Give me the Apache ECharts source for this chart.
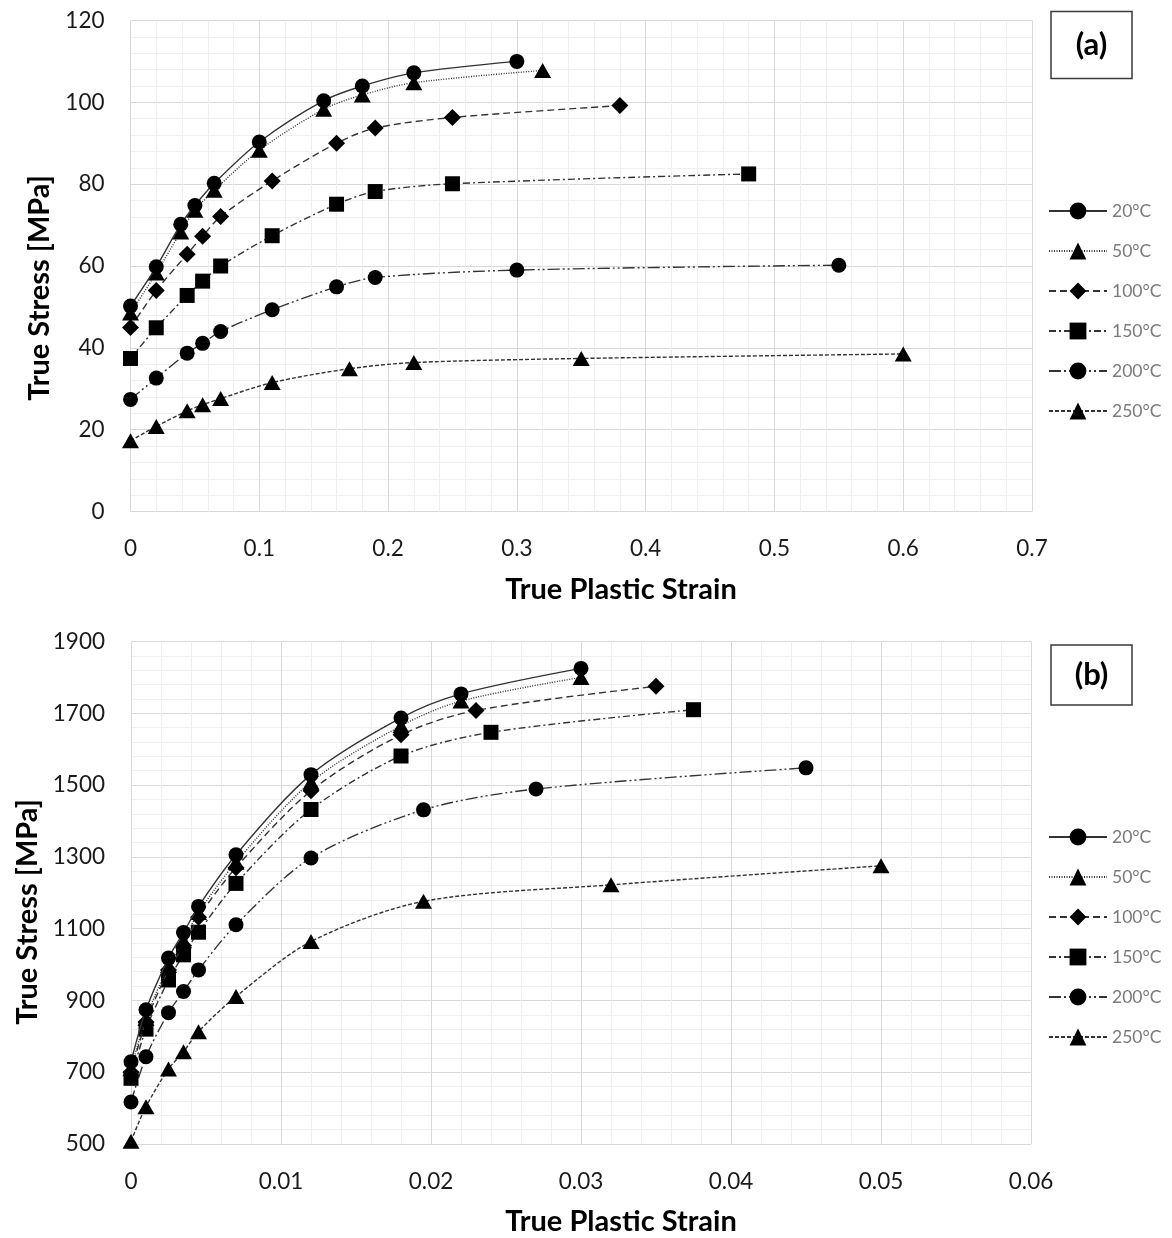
<!DOCTYPE html>
<html>
<head>
<meta charset="utf-8">
<script src="https://cdn.jsdelivr.net/npm/echarts@6/dist/echarts.min.js"></script>
<style>
html,body{margin:0;padding:0;background:#fff;}
#chart{width:1172px;height:1238px;}
</style>
</head>
<body>
<div id="chart"></div>
<script>
// ---------- Data: panel (a) ----------
const seriesNames = ['20°C', '50°C', '100°C', '150°C', '200°C', '250°C'];

const a_x20  = [0, 0.02, 0.039, 0.05, 0.065, 0.1, 0.15, 0.18, 0.22, 0.3];
const a_y20  = [50.2, 59.8, 70.2, 74.8, 80.2, 90.3, 100.4, 104, 107.2, 110];
const a_x50  = [0, 0.02, 0.039, 0.05, 0.065, 0.1, 0.15, 0.18, 0.22, 0.32];
const a_y50  = [48.5, 58.3, 68.3, 73.6, 78.5, 88.3, 98.3, 101.8, 104.8, 107.8];
const a_x100 = [0, 0.02, 0.044, 0.056, 0.07, 0.11, 0.16, 0.19, 0.25, 0.38];
const a_y100 = [45, 54, 62.9, 67.3, 72.1, 80.8, 90, 93.7, 96.3, 99.2];
const a_x150 = [0, 0.02, 0.044, 0.056, 0.07, 0.11, 0.16, 0.19, 0.25, 0.48];
const a_y150 = [37.4, 44.9, 52.8, 56.3, 60, 67.4, 75.1, 78.2, 80.1, 82.5];
const a_x200 = [0, 0.02, 0.044, 0.056, 0.07, 0.11, 0.16, 0.19, 0.3, 0.55];
const a_y200 = [27.4, 32.6, 38.7, 41.1, 44, 49.3, 54.9, 57.2, 59, 60.2];
const a_x250 = [0, 0.02, 0.044, 0.056, 0.07, 0.11, 0.17, 0.22, 0.35, 0.6];
const a_y250 = [17.3, 20.8, 24.6, 26.1, 27.6, 31.5, 34.9, 36.4, 37.4, 38.5];

// ---------- Data: panel (b) ----------
const b_x20  = [0, 0.001, 0.0025, 0.0035, 0.0045, 0.007, 0.012, 0.018, 0.022, 0.03];
const b_y20  = [729, 874, 1018, 1089, 1162, 1306, 1529, 1687, 1754, 1825];
const b_x50  = [0, 0.001, 0.0025, 0.0035, 0.0045, 0.007, 0.012, 0.018, 0.022, 0.03];
const b_y50  = [710, 850, 997, 1066, 1145, 1285, 1508, 1665, 1734, 1800];
const b_x100 = [0, 0.001, 0.0025, 0.0035, 0.0045, 0.007, 0.012, 0.018, 0.023, 0.035];
const b_y100 = [700, 840, 985, 1052, 1132, 1270, 1484, 1640, 1708, 1775];
const b_x150 = [0, 0.001, 0.0025, 0.0035, 0.0045, 0.007, 0.012, 0.018, 0.024, 0.0375];
const b_y150 = [683, 820, 957, 1027, 1090, 1226, 1432, 1581, 1647, 1710];
const b_x200 = [0, 0.001, 0.0025, 0.0035, 0.0045, 0.007, 0.012, 0.0195, 0.027, 0.045];
const b_y200 = [617, 743, 866, 925, 985, 1111, 1297, 1431, 1489, 1548];
const b_x250 = [0, 0.001, 0.0025, 0.0035, 0.0045, 0.007, 0.012, 0.0195, 0.032, 0.05];
const b_y250 = [508, 604, 709, 757, 813, 911, 1064, 1176, 1222, 1275];

// Axis tick settings
const aXTicks = {min: 0, max: 0.7, interval: 0.1};
const aYTicks = {min: 0, max: 120, interval: 20};
const bXTicks = {min: 0, max: 0.06, interval: 0.01};
const bYTicks = {min: 500, max: 1900, interval: 200};

// ---------- Styles ----------
const FONT = 'Lato';
const lineColor = '#333333';
const styles = [
  {symbol: 'circle',   size: 15,       dash: 'solid'},
  {symbol: 'triangle', size: [17, 15], dash: [1, 1.5]},
  {symbol: 'diamond',  size: 17,       dash: [7, 4]},
  {symbol: 'rect',     size: 15,       dash: [7, 3, 2, 3]},
  {symbol: 'circle',   size: 15,       dash: [12, 3, 2, 3, 2, 3]},
  {symbol: 'triangle', size: [17, 15], dash: [4, 2]}
];

const zip = (xs, ys) => xs.map((x, i) => [x, ys[i]]);
const aData = [zip(a_x20,a_y20), zip(a_x50,a_y50), zip(a_x100,a_y100), zip(a_x150,a_y150), zip(a_x200,a_y200), zip(a_x250,a_y250)];
const bData = [zip(b_x20,b_y20), zip(b_x50,b_y50), zip(b_x100,b_y100), zip(b_x150,b_y150), zip(b_x200,b_y200), zip(b_x250,b_y250)];

function makeSeries(dataArr, gi) {
  return dataArr.map((d, i) => ({
    name: seriesNames[i],
    type: 'line',
    xAxisIndex: gi, yAxisIndex: gi,
    data: d,
    smooth: 0.3,
    symbol: styles[i].symbol,
    symbolSize: styles[i].size,
    showAllSymbol: true,
    lineStyle: {color: lineColor, width: 1.4, type: styles[i].dash},
    itemStyle: {color: '#000', borderWidth: 0},
    emphasis: {disabled: true},
    animation: false,
    z: 10 - i
  }));
}

function valueAxis(gi, t) {
  return {
    type: 'value', gridIndex: gi,
    min: t.min, max: t.max, interval: t.interval,
    axisLine: {show: false},
    axisTick: {show: false},
    axisLabel: {
      color: '#1a1a1a', fontFamily: FONT, fontSize: 22.5, margin: 26,
      formatter: v => String(+v.toFixed(6))
    },
    splitLine: {show: true, lineStyle: {color: '#d9d9d9', width: 1}},
    minorTick: {show: false, splitNumber: 5},
    minorSplitLine: {show: true, lineStyle: {color: '#efefef', width: 1}}
  };
}

function legend(top) {
  return {
    data: seriesNames,
    orient: 'vertical',
    left: 1043, top: top,
    itemWidth: 58, itemHeight: 21, itemGap: 22,
    textStyle: {color: '#7a7a7a', fontFamily: FONT, fontSize: 17.5},
    selectedMode: false
  };
}

function panelBox(x, y, w, h, label) {
  return [
    {type: 'rect', shape: {x: x, y: y, width: w, height: h},
     style: {fill: '#fff', stroke: '#3a3a3a', lineWidth: 1.5}, z: 100},
    {type: 'text', x: x + w / 2, y: y + h / 2,
     style: {text: label, font: 'bold 31px ' + FONT, fill: '#000', align: 'center', verticalAlign: 'middle'}, z: 101}
  ];
}

function title(x, y, text, rot) {
  return {type: 'text', x: x, y: y, rotation: rot,
    style: {text: text, font: 'bold 29px ' + FONT, fill: '#000', align: 'center', verticalAlign: 'middle'}, z: 100};
}

const chart = echarts.init(document.getElementById('chart'), null, {renderer: 'canvas'});
chart.setOption({
  backgroundColor: '#fff',
  animation: false,
  grid: [
    {left: 130.5, top: 20.5, width: 901.5, height: 491},
    {left: 131, top: 641.5, width: 900, height: 502.5}
  ],
  xAxis: [valueAxis(0, aXTicks), valueAxis(1, bXTicks)],
  yAxis: [valueAxis(0, aYTicks), valueAxis(1, bYTicks)],
  legend: [legend(197), legend(823)],
  series: [...makeSeries(aData, 0), ...makeSeries(bData, 1)],
  graphic: [
    ...panelBox(1051, 11.5, 81, 67, '(a)'),
    ...panelBox(1051, 645, 81, 60, '(b)'),
    title(621, 590, 'True Plastic Strain', 0),
    title(621, 1222, 'True Plastic Strain', 0),
    title(40, 288, 'True Stress [MPa]', Math.PI / 2),
    title(28, 912, 'True Stress [MPa]', Math.PI / 2)
  ]
});
</script>
</body>
</html>
